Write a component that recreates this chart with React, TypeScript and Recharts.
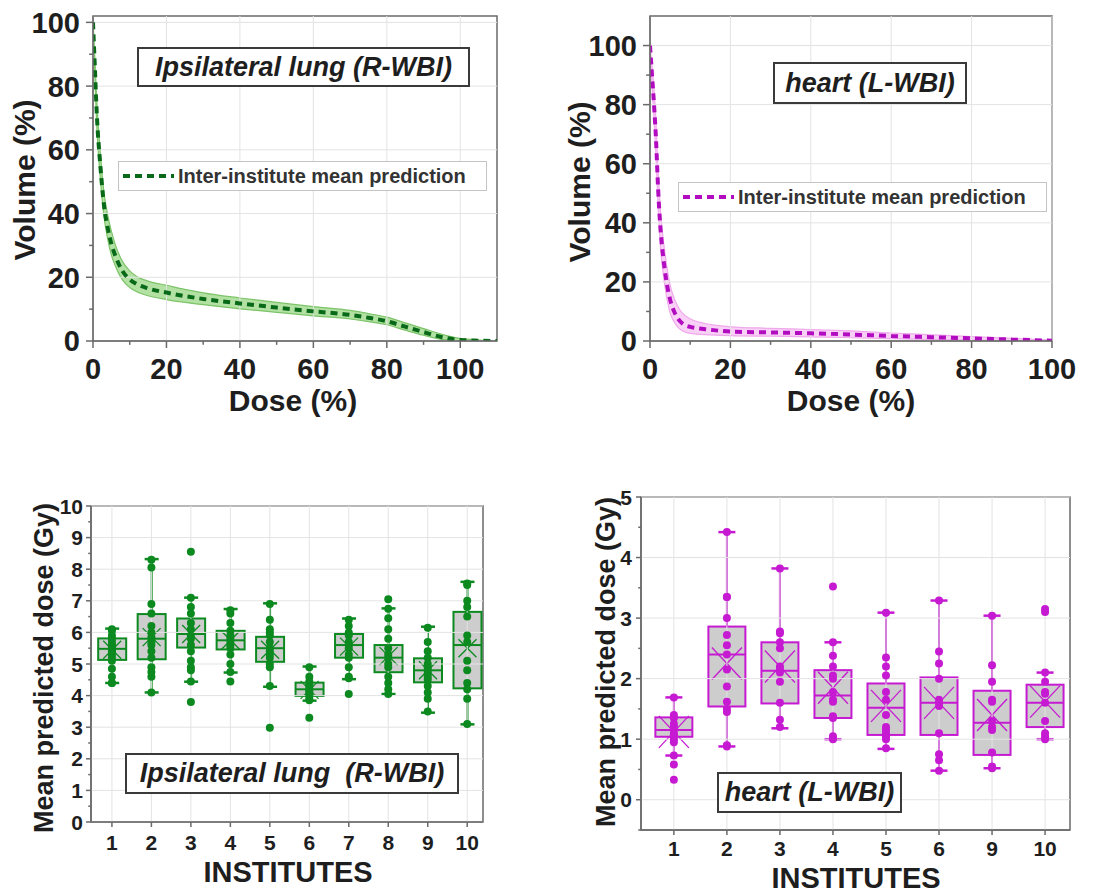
import React from 'react'
import { ComposedChart, Line, Area, Bar, Scatter, XAxis, YAxis, ReferenceLine, ReferenceArea } from 'recharts'

const FONT = '"Liberation Sans", Arial, Helvetica, sans-serif'
const INK = '#1e1e1e'
const FRAME = '#6a6a6a'
const GRID = '#e3e3e3'
const GREEN = '#0c8a20'
const GREEN_DARK = '#086a18'
const GREEN_BAND = '#a4dc93'
const GREEN_EDGE = '#7cc468'
const MAGENTA = '#c61ad2'
const MAGENTA_DARK = '#b20cc0'
const PINK_BAND = '#f8c8f4'
const PINK_EDGE = '#f0a8ec'
const BOX_FILL = '#cdcdcd'

// top row: dose-volume curves, mean and spread band
const lungDose = [0, 0.5, 1, 2, 3, 4, 5, 6, 8, 10, 12, 15, 20, 25, 30, 40, 50, 60, 70, 75, 80, 85, 90, 95, 100, 105, 110]
const lungMean = [100, 86, 72, 55, 42.5, 35.5, 30.5, 27, 22, 19.3, 17.8, 16.5, 15.2, 14.1, 13.2, 11.8, 10.5, 9.3, 8.2, 7.3, 6.2, 4.5, 2.8, 1.2, 0.3, 0.1, 0]
const lungLow = [100, 83, 68, 51, 39, 32, 27, 23.8, 19.2, 16.8, 15.4, 14.2, 13, 12.1, 11.4, 10.1, 9, 7.9, 6.9, 6.1, 5.1, 3.4, 1.8, 0.5, 0, 0, 0]
const lungHigh = [100, 89, 76, 59, 46.5, 39.5, 34.5, 30.5, 25, 22, 20.2, 18.8, 17.5, 16.2, 15.1, 13.5, 12.1, 10.8, 9.6, 8.6, 7.5, 5.7, 3.9, 2.1, 0.8, 0.3, 0.1]

const heartDose = [0, 0.5, 1, 1.5, 2, 2.5, 3, 3.5, 4, 5, 6, 7, 8, 10, 15, 20, 30, 40, 50, 60, 70, 80, 90, 100]
const heartMean = [100, 90, 80, 68, 52, 40, 32, 26, 21, 14, 10, 7.5, 6, 4.8, 3.8, 3.2, 2.9, 2.6, 2.2, 1.7, 1.3, 0.9, 0.5, 0.1]
const heartLow = [100, 87, 75, 62, 46, 34, 26, 20.5, 16, 9.5, 6.5, 4.5, 3.5, 2.6, 2.1, 1.8, 1.6, 1.4, 1.1, 0.8, 0.5, 0.3, 0.1, 0]
const heartHigh = [100, 93, 85, 74, 58, 46, 38, 32, 27, 19, 14.5, 11.5, 9.5, 7.5, 5.6, 4.8, 4.3, 3.9, 3.4, 2.7, 2.1, 1.5, 0.9, 0.3]

// bottom row: per-institute box statistics
const lungLabels = ['1', '2', '3', '4', '5', '6', '7', '8', '9', '10']
const lungWLow = [4.4, 4.1, 4.44, 4.73, 4.28, 3.84, 4.52, 4.05, 3.46, 3.09]
const lungQ1 = [5.13, 5.15, 5.52, 5.46, 5.07, 3.99, 5.2, 4.74, 4.42, 4.23]
const lungMed = [5.48, 5.8, 5.95, 5.75, 5.5, 4.2, 5.6, 5.2, 4.8, 5.6]
const lungQ3 = [5.81, 6.58, 6.44, 6.05, 5.86, 4.41, 5.95, 5.6, 5.18, 6.65]
const lungWHigh = [6.12, 8.32, 7.1, 6.74, 6.92, 4.92, 6.44, 6.76, 6.18, 7.6]
const lungAvg = [5.45, 5.85, 5.95, 5.75, 5.45, 4.18, 5.55, 5.25, 4.8, 5.5]
const lungPoints: number[][] = [
  [6.1, 6.05, 5.9, 5.8, 5.7, 5.6, 5.55, 5.5, 5.45, 5.4, 5.3, 5.2, 5.1, 4.85, 4.6, 4.4, 4.4],
  [8.3, 8.05, 6.9, 6.6, 6.2, 6.0, 5.85, 5.7, 5.6, 5.4, 5.2, 4.9, 4.75, 4.6, 4.1],
  [8.55, 7.1, 6.8, 6.6, 6.3, 6.1, 5.9, 5.8, 5.6, 5.4, 5.1, 4.9, 4.8, 4.45, 3.8],
  [6.7, 6.6, 6.3, 6.05, 5.9, 5.8, 5.7, 5.6, 5.5, 5.3, 5.0, 4.75, 4.45],
  [6.9, 6.4, 6.1, 6.0, 5.9, 5.7, 5.5, 5.4, 5.3, 5.2, 5.0, 4.9, 4.3, 2.98],
  [4.9, 4.6, 4.45, 4.35, 4.3, 4.2, 4.15, 4.1, 4.0, 3.9, 3.85, 3.3],
  [6.4, 6.2, 6.0, 5.9, 5.7, 5.6, 5.5, 5.3, 5.2, 4.9, 4.6, 4.55, 4.05],
  [7.05, 6.75, 6.45, 6.1, 5.8, 5.5, 5.3, 5.2, 5.0, 4.9, 4.6, 4.4, 4.2, 4.05],
  [6.15, 5.7, 5.4, 5.2, 5.0, 4.9, 4.8, 4.7, 4.6, 4.5, 4.3, 4.1, 3.9, 3.5],
  [7.55, 7.5, 7.0, 6.8, 6.5, 5.9, 5.7, 5.1, 4.8, 4.4, 4.2, 3.9, 3.1],
]

const heartLabels = ['1', '2', '3', '4', '5', '6', '9', '10']
const heartWLow = [0.73, 0.88, 1.18, 1.0, 0.84, 0.48, 0.52, 1.0]
const heartQ1 = [1.04, 1.54, 1.59, 1.35, 1.07, 1.07, 0.74, 1.2]
const heartMed = [1.15, 2.4, 2.13, 1.72, 1.52, 1.6, 1.27, 1.6]
const heartQ3 = [1.36, 2.86, 2.6, 2.14, 1.92, 2.02, 1.8, 1.9]
const heartWHigh = [1.69, 4.42, 3.82, 2.6, 3.09, 3.29, 3.04, 2.1]
const heartAvg = [1.12, 2.25, 2.2, 1.85, 1.55, 1.6, 1.4, 1.62]
const heartPoints: number[][] = [
  [1.69, 1.4, 1.35, 1.25, 1.2, 1.15, 1.1, 1.05, 1.0, 0.95, 0.73, 0.58, 0.33],
  [4.42, 3.35, 3.35, 3.0, 2.72, 2.55, 2.4, 2.15, 1.87, 1.62, 1.5, 1.45, 0.9, 0.88],
  [3.82, 2.78, 2.75, 2.6, 2.5, 2.2, 2.15, 2.1, 1.95, 1.6, 1.32, 1.2],
  [3.52, 2.6, 2.38, 2.2, 2.05, 2.0, 1.78, 1.65, 1.62, 1.38, 1.35, 1.05, 1.0],
  [3.09, 2.35, 2.2, 2.05, 1.78, 1.65, 1.4, 1.2, 1.15, 1.1, 1.05, 1.0, 0.85],
  [3.29, 2.45, 2.25, 2.0, 1.65, 1.6, 1.55, 1.1, 0.75, 0.65, 0.48],
  [3.04, 2.22, 1.95, 1.65, 1.62, 1.3, 1.2, 1.15, 0.78, 0.55, 0.52],
  [3.15, 3.1, 2.1, 1.95, 1.78, 1.75, 1.6, 1.3, 1.1, 1.05, 1.0],
]

type TickOpts = { side: 'left' | 'bottom'; size: number; gap: number; majors: number[]; font: number; labels?: string[] }

const makeTick = (o: TickOpts) => (p: any) => {
  const v: number = p.payload.value
  const major = o.majors.includes(v)
  const len = major ? o.size : o.size * 0.55
  const label = o.labels ? o.labels[v - 1] : String(v)
  const txt = { fontSize: o.font, fontWeight: 'bold' as const, fontFamily: FONT, fill: INK }
  if (o.side === 'left') {
    const ax = p.x + o.size + o.gap
    return (
      <g>
        <line x1={ax - len} x2={ax} y1={p.y} y2={p.y} stroke={FRAME} strokeWidth={1.5} />
        {major && <text x={p.x} y={p.y} dy="0.36em" textAnchor="end" {...txt}>{label}</text>}
      </g>
    )
  }
  const ay = p.y - o.size - o.gap
  return (
    <g>
      <line x1={p.x} x2={p.x} y1={ay} y2={ay + len} stroke={FRAME} strokeWidth={1.5} />
      {major && <text x={p.x} y={p.y} dy="0.71em" textAnchor="middle" {...txt}>{label}</text>}
    </g>
  )
}

const range = (a: number, b: number, s: number) => {
  const out: number[] = []
  for (let i = 0; a + i * s <= b + 1e-9; i++) out.push(+(a + i * s).toFixed(2))
  return out
}

function Txt({ x, y, size, rotate, italic, children }: any) {
  return (
    <div style={{
      position: 'absolute', left: x, top: y, transform: `translate(-50%, -50%)${rotate ? ' rotate(-90deg)' : ''}`,
      fontFamily: FONT, fontWeight: 'bold', fontStyle: italic ? 'italic' : 'normal', fontSize: size,
      color: INK, whiteSpace: 'pre', lineHeight: 1,
    }}>{children}</div>
  )
}

function TitleBox({ left, top, width, height, size, children }: any) {
  return (
    <div style={{
      position: 'absolute', left, top, width, height, boxSizing: 'border-box', border: '2px solid #3a3a3a',
      background: '#fff', display: 'flex', alignItems: 'center', justifyContent: 'center',
      fontFamily: FONT, fontWeight: 'bold', fontStyle: 'italic', fontSize: size, color: INK, whiteSpace: 'pre',
    }}>{children}</div>
  )
}

function LegendBox({ left, top, color }: any) {
  return (
    <div style={{
      position: 'absolute', left, top, width: 369, height: 30, boxSizing: 'border-box', border: '1px solid #c4c4c4',
      background: '#fff', display: 'flex', alignItems: 'center', fontFamily: FONT, fontWeight: 'bold', fontSize: 20, color: '#333',
    }}>
      <svg width={56} height={10} style={{ marginLeft: 3 }}>
        <line x1={1} x2={52} y1={5} y2={5} stroke={color} strokeWidth={4} strokeDasharray="7 5" />
      </svg>
      <span>Inter-institute mean prediction</span>
    </div>
  )
}

function DvhPanel({ dose, mean, low, high, xMax, yMax, line, band, edge, margin }: any) {
  const data = dose.map((d: number, i: number) => ({ dose: d, mean: mean[i], band: [low[i], high[i]] }))
  const xt = range(0, 100, 10)
  const yt = range(0, 100, 10)
  const majors = [0, 20, 40, 60, 80, 100]
  return (
    <ComposedChart width={margin.w} height={420} data={data} margin={margin.m}>
      <XAxis type="number" dataKey="dose" domain={[0, xMax]} ticks={xt} interval={0} allowDataOverflow height={40}
        axisLine={{ stroke: FRAME, strokeWidth: 1.5 }} tickLine={false} tickSize={7} tickMargin={10}
        tick={makeTick({ side: 'bottom', size: 7, gap: 10, majors, font: 29 })} />
      <YAxis type="number" domain={[0, yMax]} ticks={yt} interval={0} allowDataOverflow width={63}
        axisLine={{ stroke: FRAME, strokeWidth: 1.5 }} tickLine={false} tickSize={7} tickMargin={6}
        tick={makeTick({ side: 'left', size: 7, gap: 6, majors, font: 29 })} />
      {majors.map((v) => <ReferenceLine key={'gx' + v} x={v} stroke={GRID} strokeWidth={1} />)}
      {majors.map((v) => <ReferenceLine key={'gy' + v} y={v} stroke={GRID} strokeWidth={1} />)}
      <Area type="monotone" dataKey="band" stroke={edge} strokeWidth={1.2} fill={band} fillOpacity={0.85} isAnimationActive={false} />
      <Line type="monotone" dataKey="mean" stroke={line} strokeWidth={4} strokeDasharray="7 5" dot={false} isAnimationActive={false} />
      <ReferenceArea x1={0} x2={xMax} y1={0} y2={yMax} fill="none" stroke={FRAME} strokeWidth={1.5} />
    </ComposedChart>
  )
}

function BoxShape(props: any) {
  const { x, y, width, height, payload, color, cap, markW, markH } = props
  if (!payload) return null
  const top = Math.min(y, y + height)
  const h = Math.abs(height)
  const k = h / (payload.high - payload.low)
  const py = (v: number) => top + (payload.high - v) * k
  const cx = x + width / 2
  const yQ3 = py(payload.q3)
  const yQ1 = py(payload.q1)
  const yMed = py(payload.med)
  const yMean = py(payload.mean)
  return (
    <g stroke={color} strokeWidth={2} fill="none">
      <line x1={cx} x2={cx} y1={top} y2={yQ3} />
      <line x1={cx} x2={cx} y1={yQ1} y2={top + h} />
      <line x1={cx - cap / 2} x2={cx + cap / 2} y1={top} y2={top} strokeWidth={2.5} />
      <line x1={cx - cap / 2} x2={cx + cap / 2} y1={top + h} y2={top + h} strokeWidth={2.5} />
      <rect x={x} y={yQ3} width={width} height={yQ1 - yQ3} fill={BOX_FILL} />
      <line x1={x} x2={x + width} y1={yMed} y2={yMed} />
      <line x1={cx - markW} x2={cx + markW} y1={yMean - markH} y2={yMean + markH} strokeWidth={1.3} />
      <line x1={cx - markW} x2={cx + markW} y1={yMean + markH} y2={yMean - markH} strokeWidth={1.3} />
    </g>
  )
}

function BoxPanel({ labels, wl, q1, med, q3, wh, avg, points, color, xDomain, yDomain, yTicks, yMajors, size, barSize, cap, markW, markH }: any) {
  const rows = labels.map((_: string, i: number) => ({ x: i + 1, low: wl[i], q1: q1[i], med: med[i], q3: q3[i], high: wh[i], mean: avg[i] }))
  const dots = points.flatMap((vals: number[], i: number) => vals.map((v) => ({ x: i + 1, y: v })))
  const xt = labels.map((_: string, i: number) => i + 1)
  return (
    <ComposedChart width={size.w} height={size.h} data={rows} margin={size.m}>
      <XAxis type="number" dataKey="x" domain={xDomain} ticks={xt} interval={0} allowDataOverflow height={30}
        axisLine={{ stroke: FRAME, strokeWidth: 1.5 }} tickLine={false} tickSize={5} tickMargin={size.xg}
        tick={makeTick({ side: 'bottom', size: 5, gap: size.xg, majors: xt, font: 21, labels })} />
      <YAxis type="number" domain={yDomain} ticks={yTicks} interval={0} allowDataOverflow width={50}
        axisLine={{ stroke: FRAME, strokeWidth: 1.5 }} tickLine={false} tickSize={5} tickMargin={size.yg}
        tick={makeTick({ side: 'left', size: 5, gap: size.yg, majors: yMajors, font: 21 })} />
      {xt.map((v: number) => <ReferenceLine key={'gx' + v} x={v} stroke={GRID} strokeWidth={1} />)}
      {yMajors.map((v: number) => <ReferenceLine key={'gy' + v} y={v} stroke={GRID} strokeWidth={1} />)}
      <Bar dataKey={(d: any) => [d.low, d.high]} barSize={barSize} isAnimationActive={false}
        shape={(p: any) => <BoxShape {...p} color={color} cap={cap} markW={markW} markH={markH} />} />
      <Scatter data={dots} dataKey="y" isAnimationActive={false}
        shape={(p: any) => <circle cx={p.cx} cy={p.cy} r={4} fill={color} />} />
      <ReferenceArea x1={xDomain[0]} x2={xDomain[1]} y1={yDomain[0]} y2={yDomain[1]} fill="none" stroke={FRAME} strokeWidth={1.5} />
    </ComposedChart>
  )
}

export default function App() {
  return (
    <div style={{ position: 'absolute', left: 0, top: 0, width: 1104, height: 893, background: '#fff', overflow: 'hidden' }}>
      <div style={{ position: 'absolute', left: 0, top: 0 }}>
        <DvhPanel dose={lungDose} mean={lungMean} low={lungLow} high={lungHigh} xMax={110} yMax={102}
          line={GREEN_DARK} band={GREEN_BAND} edge={GREEN_EDGE} margin={{ w: 520, m: { top: 16, right: 23, bottom: 39, left: 30 } }} />
      </div>
      <div style={{ position: 'absolute', left: 560, top: 0 }}>
        <DvhPanel dose={heartDose} mean={heartMean} low={heartLow} high={heartHigh} xMax={100} yMax={110}
          line={MAGENTA_DARK} band={PINK_BAND} edge={PINK_EDGE} margin={{ w: 544, m: { top: 16, right: 52, bottom: 39, left: 27 } }} />
      </div>
      <div style={{ position: 'absolute', left: 0, top: 490 }}>
        <BoxPanel labels={lungLabels} wl={lungWLow} q1={lungQ1} med={lungMed} q3={lungQ3} wh={lungWHigh} avg={lungAvg}
          points={lungPoints} color={GREEN} xDomain={[0.47, 10.4]} yDomain={[0, 10]} yTicks={range(0, 10, 0.5)}
          yMajors={range(0, 10, 1)} barSize={28} cap={14} markW={9} markH={9}
          size={{ w: 500, h: 403, m: { top: 16, right: 17, bottom: 41, left: 41 }, xg: 8, yg: 3 }} />
      </div>
      <div style={{ position: 'absolute', left: 570, top: 480 }}>
        <BoxPanel labels={heartLabels} wl={heartWLow} q1={heartQ1} med={heartMed} q3={heartQ3} wh={heartWHigh} avg={heartAvg}
          points={heartPoints} color={MAGENTA} xDomain={[0.38, 8.47]} yDomain={[-0.5, 5]} yTicks={range(-0.5, 5, 0.5)}
          yMajors={range(0, 5, 1)} barSize={37} cap={17} markW={15} markH={16}
          size={{ w: 534, h: 413, m: { top: 17, right: 34, bottom: 33, left: 21 }, xg: 6, yg: 4 }} />
      </div>

      <Txt x={25} y={180} size={30} rotate>Volume (%)</Txt>
      <Txt x={293} y={401} size={30}>Dose (%)</Txt>
      <Txt x={580} y={182} size={30} rotate>Volume (%)</Txt>
      <Txt x={851} y={401} size={30}>Dose (%)</Txt>
      <Txt x={44} y={668} size={27} rotate>Mean predicted dose (Gy)</Txt>
      <Txt x={288} y={872} size={29}>INSTITUTES</Txt>
      <Txt x={606} y={662} size={27} rotate>Mean predicted dose (Gy)</Txt>
      <Txt x={856} y={878} size={29}>INSTITUTES</Txt>

      <TitleBox left={137} top={47} width={333} height={40} size={27}>Ipsilateral lung (R-WBI)</TitleBox>
      <TitleBox left={773} top={62} width={194} height={42} size={27}>heart (L-WBI)</TitleBox>
      <TitleBox left={125} top={753} width={334} height={41} size={27}>Ipsilateral lung  (R-WBI)</TitleBox>
      <TitleBox left={717} top={772} width={185} height={41} size={27}>heart (L-WBI)</TitleBox>

      <LegendBox left={118} top={161} color={GREEN_DARK} />
      <LegendBox left={678} top={182} color={MAGENTA_DARK} />
    </div>
  )
}
